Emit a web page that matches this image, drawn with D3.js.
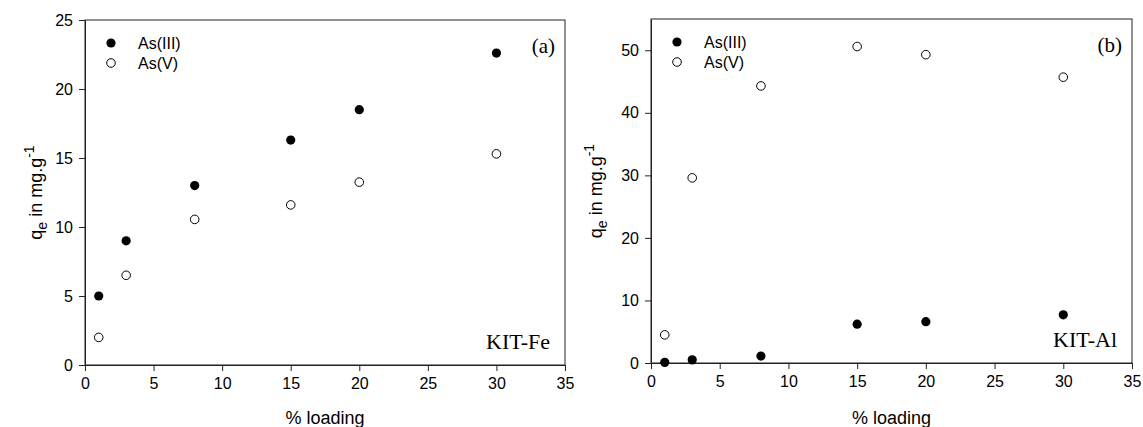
<!DOCTYPE html>
<html><head><meta charset="utf-8">
<script src="https://cdn.jsdelivr.net/npm/d3@7"></script>
<style>body{margin:0;background:#fff}svg{display:block}</style>
</head><body>
<svg id="c" width="1143" height="427"></svg>
<script>
const loading = [1, 3, 8, 15, 20, 30];
const feAs3 = [5, 9, 13, 16.3, 18.5, 22.6];
const feAs5 = [2, 6.5, 10.55, 11.6, 13.25, 15.3];
const alAs3 = [0.1, 0.5, 1.1, 6.2, 6.6, 7.7];
const alAs5 = [4.5, 29.6, 44.3, 50.6, 49.3, 45.7];
const xTicksVals = [0, 5, 10, 15, 20, 25, 30, 35];
const feYTicks = [0, 5, 10, 15, 20, 25];
const alYTicks = [0, 10, 20, 30, 40, 50];
const seriesNames = ["As(III)", "As(V)"];

const svg = d3.select("#c");
const panels = [
  {left: 85, right: 565, top: 20, bottom: 365, ymax: 25, yt: feYTicks, s3: feAs3, s5: feAs5, tag: "(a)", name: "KIT-Fe", ylabX: 42},
  {left: 651, right: 1132, top: 19, bottom: 363, ymax: 55, yt: alYTicks, s3: alAs3, s5: alAs5, tag: "(b)", name: "KIT-Al", ylabX: 602}
];
const sans = "Liberation Sans, Arial, sans-serif";
const serif = "Liberation Serif, Times New Roman, serif";

panels.forEach(p => {
  const x = d3.scaleLinear().domain([0, 35]).range([p.left, p.right]);
  const y = d3.scaleLinear().domain([0, p.ymax]).range([p.bottom, p.top]);
  const g = svg.append("g");
  g.append("rect").attr("x", p.left).attr("y", p.top)
    .attr("width", p.right - p.left).attr("height", p.bottom - p.top)
    .attr("fill", "none").attr("stroke", "#222").attr("stroke-width", 1);
  const xa = g.append("g").attr("transform", `translate(0,${p.bottom})`)
    .call(d3.axisBottom(x).tickValues(xTicksVals).tickSize(6).tickPadding(7).tickSizeOuter(0));
  const ya = g.append("g").attr("transform", `translate(${p.left},0)`)
    .call(d3.axisLeft(y).tickValues(p.yt).tickSize(6).tickPadding(6).tickSizeOuter(0));
  [xa, ya].forEach(a => {
    a.select(".domain").attr("stroke", "#222");
    a.selectAll(".tick line").attr("stroke", "#222");
    a.selectAll("text").attr("font-family", sans).attr("font-size", 16).attr("fill", "#000");
  });
  const d3pts = loading.map((l, i) => [l, p.s3[i]]);
  const d5pts = loading.map((l, i) => [l, p.s5[i]]);
  g.selectAll(".o").data(d5pts).join("circle").attr("cx", d => x(d[0])).attr("cy", d => y(d[1]))
    .attr("r", 4.3).attr("fill", "#fff").attr("stroke", "#000").attr("stroke-width", 1);
  g.selectAll(".f").data(d3pts).join("circle").attr("cx", d => x(d[0])).attr("cy", d => y(d[1]))
    .attr("r", 4.6).attr("fill", "#000");
  const lx = p.left + 26, ly = p.top + 23;
  seriesNames.forEach((n, i) => {
    const c = g.append("circle").attr("cx", lx).attr("cy", ly + i * 20).attr("r", i === 0 ? 4.6 : 4.3);
    if (i === 0) c.attr("fill", "#000"); else c.attr("fill", "#fff").attr("stroke", "#000");
    g.append("text").attr("x", lx + 27).attr("y", ly + i * 20 + 6)
      .attr("font-family", sans).attr("font-size", 16).text(n);
  });
  g.append("text").attr("x", p.right - 10).attr("y", p.top + 33).attr("text-anchor", "end")
    .attr("font-family", serif).attr("font-size", 21).text(p.tag);
  g.append("text").attr("x", p.right - 15).attr("y", p.bottom - 16).attr("text-anchor", "end")
    .attr("font-family", serif).attr("font-size", 22).text(p.name);
  g.append("text").attr("x", (p.left + p.right) / 2).attr("y", 424).attr("text-anchor", "middle")
    .attr("font-family", sans).attr("font-size", 18).text("% loading");
  const yl = g.append("text").attr("transform", `translate(${p.ylabX},${(p.top + p.bottom) / 2}) rotate(-90)`)
    .attr("text-anchor", "middle").attr("font-family", sans).attr("font-size", 18);
  yl.append("tspan").text("q");
  yl.append("tspan").attr("dy", 5).attr("font-size", 14).text("e");
  yl.append("tspan").attr("dy", -5).text(" in mg.g");
  yl.append("tspan").attr("dy", -8).attr("font-size", 14).text("-1");
});
</script>
</body></html>
